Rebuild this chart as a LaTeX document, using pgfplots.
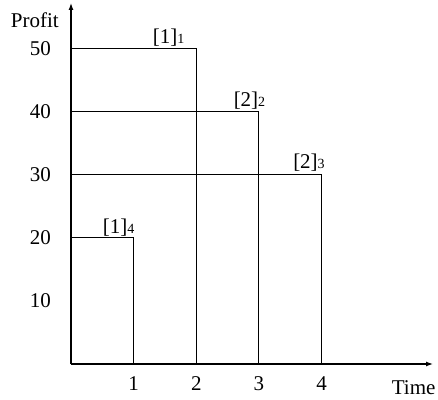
\documentclass[border=0pt]{standalone}
\usepackage{fontspec}
\setmainfont{Liberation Serif}
\usepackage{pgfplots}
\pgfplotsset{compat=1.18}
\usetikzlibrary{arrows.meta}
\newcommand{\sub}[1]{{\fontsize{14}{14}\selectfont #1}}
\begin{document}
\begin{tikzpicture}
\useasboundingbox (-71pt,-35pt) rectangle (367pt,364pt);
\begin{axis}[
  scale only axis, width=362pt, height=361pt,
  xmin=0, xmax=5.78, ymin=0, ymax=57.2,
  axis lines=left,
  axis line style={line width=1.2pt, -{Latex[length=7pt,width=5pt]}},
  xtick={1,2,3,4}, ytick={10,20,30,40,50},
  major tick length=0pt,
  tick style={draw=none},
  /pgf/number format/assume math mode=true,
  ticklabel style={font=\fontsize{21}{24}\selectfont, inner sep=0pt},
  xticklabel style={anchor=north, yshift=-12pt},
  yticklabel style={anchor=east, xshift=-20pt},
  clip=false,
]
\addplot[black, line width=1.2pt] coordinates {(0,50) (2,50) (2,0)};
\addplot[black, line width=1.2pt] coordinates {(0,40) (3,40) (3,0)};
\addplot[black, line width=1.2pt] coordinates {(0,30) (4,30) (4,0)};
\addplot[black, line width=1.2pt] coordinates {(0,20) (1,20) (1,0)};
\node[anchor=base, inner sep=0pt, yshift=4.5pt, font=\fontsize{21}{24}\selectfont] at (axis cs:1.56,50) {[1]\sub{1}};
\node[anchor=base, inner sep=0pt, yshift=5pt, font=\fontsize{21}{24}\selectfont] at (axis cs:2.85,40) {[2]\sub{2}};
\node[anchor=base, inner sep=0pt, yshift=6pt, font=\fontsize{21}{24}\selectfont] at (axis cs:3.80,30) {[2]\sub{3}};
\node[anchor=base, inner sep=0pt, yshift=4.5pt, font=\fontsize{21}{24}\selectfont] at (axis cs:0.76,20) {[1]\sub{4}};
\node[anchor=base east, inner sep=0pt, xshift=-12pt, font=\fontsize{21}{24}\selectfont] at (axis cs:0,53.3) {Profit};
\node[anchor=base west, inner sep=0pt, font=\fontsize{21}{24}\selectfont] at (axis cs:5.12,-4.8) {Time};
\end{axis}
\end{tikzpicture}
\end{document}
